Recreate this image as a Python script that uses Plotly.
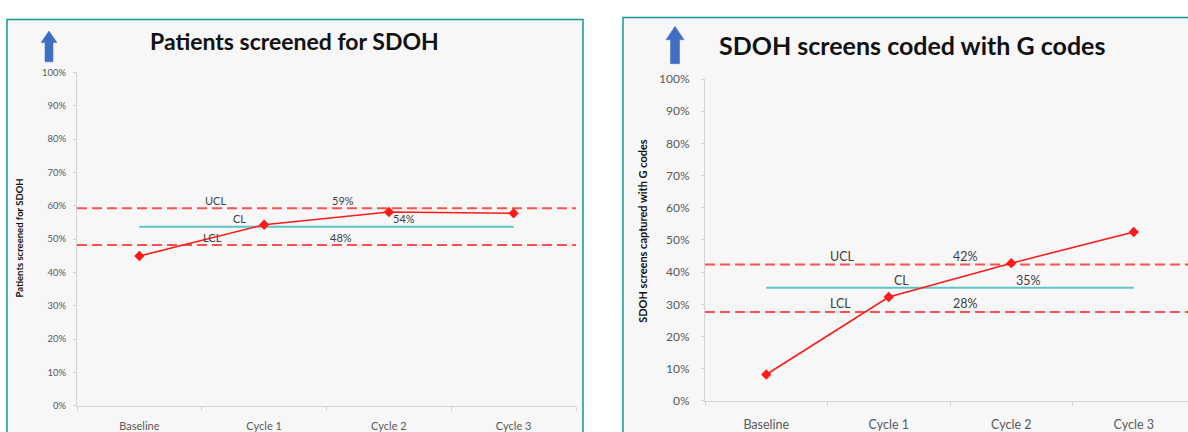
import plotly.graph_objects as go

# ---- data ----
categories = ["Baseline", "Cycle 1", "Cycle 2", "Cycle 3"]

screened = [0.449, 0.543, 0.581, 0.577]          # patients screened for SDOH
screened_limits = {"UCL": 0.592, "CL": 0.537, "LCL": 0.482}

coded = [0.082, 0.323, 0.428, 0.525]             # SDOH screens coded with G codes
coded_limits = {"UCL": 0.424, "CL": 0.352, "LCL": 0.276}

y_ticks = [i / 10 for i in range(11)]

# ---- layout helpers (pixel -> paper) ----
W, H = 1188, 432


def px_x(x):
    return x / W


def px_y(y):
    return 1 - y / H


FONT = "Lato, Carlito, 'Open Sans', sans-serif"
RED = "#ff1a1a"
DASH_RED = "#ff5050"
CL_COLOR = "#5cc6c6"
TEXT = "#404040"
TICK = "#595959"
AXIS = "#d4d4d4"
PANEL = "#f7f7f7"
BORDER = "#17968f"
ARROW = "#3f6fc2"

xpos = list(range(len(categories)))

fig = go.Figure()


def add_chart(values, limits, xa, ya, label_pos, label_font):
    xr = [-0.5, len(categories) - 0.5]
    # control limits (dashed)
    for key in ("UCL", "LCL"):
        fig.add_trace(go.Scatter(
            x=xr, y=[limits[key]] * 2, xaxis=xa, yaxis=ya, mode="lines",
            line=dict(color=DASH_RED, width=2, dash="10px,5px"),
            hoverinfo="skip", showlegend=False))
    # centre line
    fig.add_trace(go.Scatter(
        x=[xpos[0], xpos[-1]], y=[limits["CL"]] * 2, xaxis=xa, yaxis=ya,
        mode="lines", line=dict(color=CL_COLOR, width=2),
        hoverinfo="skip", showlegend=False))
    # measured series
    fig.add_trace(go.Scatter(
        x=xpos, y=values, xaxis=xa, yaxis=ya, mode="lines+markers",
        line=dict(color=RED, width=1.6),
        marker=dict(symbol="diamond", size=8, color=RED),
        showlegend=False))
    # line labels and their values
    for key, (lx, vx, dy) in label_pos.items():
        v = limits[key]
        fig.add_annotation(x=lx, y=v, xref=xa, yref=ya, text=key,
                           showarrow=False, yshift=dy,
                           font=dict(family=FONT, size=label_font, color=TEXT))
        fig.add_annotation(x=vx, y=v, xref=xa, yref=ya, text=f"{v:.0%}",
                           showarrow=False, yshift=dy,
                           font=dict(family=FONT, size=label_font, color=TEXT))


add_chart(screened, screened_limits, "x", "y",
          {"UCL": (0.61, 1.63, 8), "CL": (0.80, 2.12, 8), "LCL": (0.59, 1.62, 8)},
          11)
add_chart(coded, coded_limits, "x2", "y2",
          {"UCL": (0.62, 1.63, 8), "CL": (1.10, 2.14, 7), "LCL": (0.61, 1.63, 9)},
          12.5)


def xaxis_cfg(domain, rng, size, anchor, standoff):
    return dict(
        domain=domain, range=rng, anchor=anchor, tickmode="array",
        tickvals=xpos, ticktext=categories, ticks="", showgrid=False,
        zeroline=False, showline=True, linecolor=AXIS, linewidth=1,
        ticklabelstandoff=standoff,
        tickfont=dict(family=FONT, size=size, color=TICK),
        minor=dict(tickvals=[i - 0.5 for i in range(len(categories) + 1)],
                   ticks="outside", ticklen=4, tickcolor=AXIS, showgrid=False),
        fixedrange=True)


def yaxis_cfg(domain, anchor, size, standoff):
    return dict(
        domain=domain, anchor=anchor, range=[0, 1], tickmode="array",
        tickvals=y_ticks, tickformat=".0%", ticks="outside", ticklen=3,
        tickcolor=AXIS, showgrid=False, zeroline=False, showline=True,
        linecolor=AXIS, linewidth=1, ticklabelstandoff=standoff,
        tickfont=dict(family=FONT, size=size, color=TICK), fixedrange=True)


right_start, step = 705, 122.5
right_max = len(categories) - 0.5 - (right_start + step * len(categories) - W) / step

fig.update_layout(
    width=W, height=H,
    margin=dict(l=0, r=0, t=0, b=0),
    paper_bgcolor="white",
    plot_bgcolor="rgba(0,0,0,0)",
    xaxis=xaxis_cfg([px_x(77), px_x(576)], [-0.5, len(categories) - 0.5], 11, "y", 10),
    yaxis=yaxis_cfg([px_y(414), px_y(67)], "x", 9.5, 5),
    xaxis2=xaxis_cfg([px_x(right_start), 1], [-0.5, right_max], 12.5, "y2", 12),
    yaxis2=yaxis_cfg([px_y(409), px_y(74)], "x2", 12, 9),
)

# panel frames
fig.add_shape(type="rect", xref="paper", yref="paper", layer="below",
              x0=px_x(7), x1=px_x(583), y0=-0.2, y1=px_y(12),
              fillcolor=PANEL, line=dict(color=BORDER, width=1.5))
fig.add_shape(type="rect", xref="paper", yref="paper", layer="below",
              x0=px_x(623), x1=1.2, y0=-0.2, y1=px_y(10),
              fillcolor=PANEL, line=dict(color=BORDER, width=1.5))


def arrow(cx, top, bottom, head_w, head_h, shaft_w):
    pts = [
        (cx, top), (cx + head_w, top + head_h), (cx + shaft_w, top + head_h),
        (cx + shaft_w, bottom), (cx - shaft_w, bottom), (cx - shaft_w, top + head_h),
        (cx - head_w, top + head_h),
    ]
    path = "M " + " L ".join(f"{px_x(x)},{px_y(y)}" for x, y in pts) + " Z"
    fig.add_shape(type="path", xref="paper", yref="paper", path=path,
                  fillcolor=ARROW, line=dict(color=ARROW, width=0.5))


arrow(49, 24, 56, 8, 12, 4)
arrow(675, 19, 58, 9, 14, 4.5)


def paper_text(x, y, text, size, angle=0):
    fig.add_annotation(x=px_x(x), y=px_y(y), xref="paper", yref="paper",
                       xanchor="center", yanchor="middle", text=text,
                       showarrow=False, textangle=angle,
                       font=dict(family=FONT, size=size, color="#111111"))


# titles
paper_text(294, 34, "<b>Patients screened for SDOH</b>", 23)
paper_text(912, 38, "<b>SDOH screens coded with G codes</b>", 25)

# axis titles
paper_text(20, 240, "<b>Patients screened for SDOH</b>", 9.5, -90)
paper_text(643, 232, "<b>SDOH screens captured with G codes</b>", 11, -90)

fig.write_html("out.html")
